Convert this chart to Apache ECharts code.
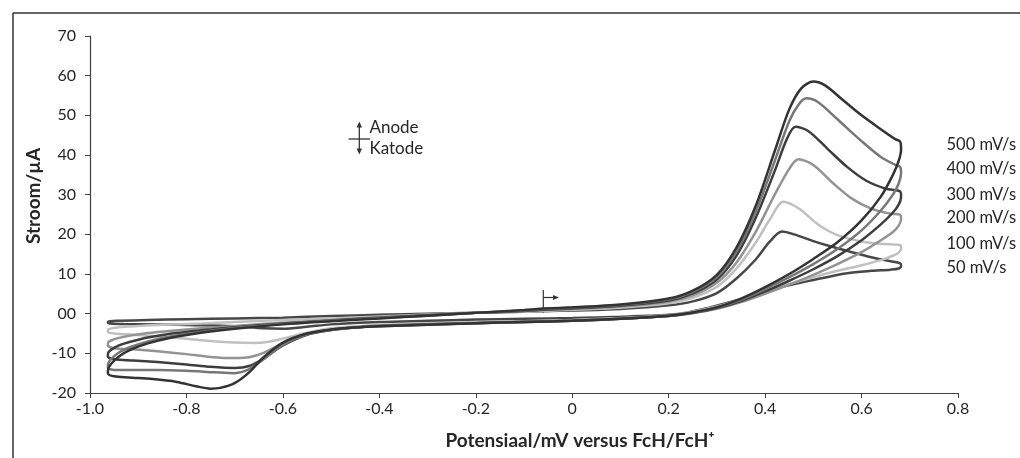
<!DOCTYPE html>
<html><head><meta charset="utf-8">
<script src="https://cdn.jsdelivr.net/npm/echarts@6/dist/echarts.min.js"></script>
<style>html,body{margin:0;padding:0;background:#fff}#c{width:1020px;height:458px}</style>
</head><body><div id="c"></div>
<script>
// Scan rates (legend labels)
const scanRates = ['500 mV/s', '400 mV/s', '300 mV/s', '200 mV/s', '100 mV/s', '50 mV/s'];

// Axis ticks
const xTicks = [-1.0, -0.8, -0.6, -0.4, -0.2, 0, 0.2, 0.4, 0.6, 0.8];
const yTicks = [-20, -10, 0, 10, 20, 30, 40, 50, 60, 70];

// Cyclic voltammograms: [potential, current]
const cv500 = [[-0.06,1.3],[0,1.6],[0.1,2.3],[0.2,3.8],[0.25,5.8],[0.3,9.8],[0.34,16.5],[0.38,27],[0.42,41],[0.45,51.5],[0.475,56.8],[0.5,58.5],[0.525,57.5],[0.56,54],[0.6,50],[0.64,46.5],[0.67,44],[0.68,43.4],
 [0.682,41.5],[0.677,38.5],[0.665,35],[0.64,29.5],[0.6,23.5],[0.55,18],[0.5,13.8],[0.45,10],[0.4,6.7],[0.35,3.8],[0.3,1.6],[0.25,0.3],[0.2,-0.5],[0.1,-1.3],[0,-1.8],[-0.1,-2.1],[-0.2,-2.4],[-0.3,-2.8],[-0.4,-3.2],[-0.45,-3.5],[-0.5,-4.0],
 [-0.55,-5.0],[-0.6,-7.3],[-0.64,-11],[-0.67,-14.8],[-0.7,-17.5],[-0.73,-18.7],[-0.75,-18.9],[-0.78,-18.3],[-0.82,-17.2],[-0.87,-16.5],[-0.92,-16.1],[-0.95,-15.8],[-0.963,-15.0],[-0.962,-13.8],[-0.955,-12.5],
 [-0.94,-10.8],[-0.92,-9.3],[-0.88,-7.5],[-0.83,-6],[-0.77,-4.8],[-0.7,-3.8],[-0.6,-2.7],[-0.5,-1.9],[-0.4,-1.2],[-0.3,-0.5],[-0.2,0.2],[-0.1,0.9],[-0.06,1.3]];

const cv400 = [[-0.06,1.2],[0,1.5],[0.1,2.2],[0.2,3.6],[0.25,5.5],[0.3,9.2],[0.34,15.5],[0.38,25.5],[0.42,38.5],[0.45,48.5],[0.47,52.8],[0.486,54.3],[0.51,53.3],[0.55,49],[0.6,43.5],[0.64,39.5],[0.67,37.5],[0.68,37],
 [0.682,35.5],[0.677,32.8],[0.665,30],[0.64,26],[0.6,21],[0.55,16.3],[0.5,12.5],[0.45,9.2],[0.4,6.2],[0.35,3.5],[0.3,1.5],[0.25,0.3],[0.2,-0.5],[0.1,-1.3],[0,-1.8],[-0.1,-2.1],[-0.2,-2.4],[-0.3,-2.8],[-0.4,-3.2],[-0.45,-3.5],[-0.5,-4.1],
 [-0.55,-5.2],[-0.6,-7.8],[-0.64,-11.5],[-0.67,-14],[-0.7,-15],[-0.74,-14.8],[-0.8,-14.4],[-0.86,-14.2],[-0.91,-14.2],[-0.95,-14.2],[-0.963,-13.6],[-0.962,-12.5],[-0.955,-11.3],
 [-0.94,-9.8],[-0.92,-8.6],[-0.88,-7],[-0.83,-5.7],[-0.77,-4.6],[-0.7,-3.6],[-0.6,-2.6],[-0.5,-1.8],[-0.4,-1.1],[-0.3,-0.5],[-0.2,0.2],[-0.1,0.8],[-0.06,1.2]];

const cv300 = [[-0.06,1.0],[0,1.3],[0.1,2.0],[0.2,3.3],[0.25,5.1],[0.3,8.6],[0.34,14.5],[0.38,24],[0.42,36],[0.445,44],[0.463,47.1],[0.49,46],[0.53,41.5],[0.57,37],[0.61,33.5],[0.65,31.5],[0.68,30.8],
 [0.682,29.5],[0.677,27.5],[0.665,25.5],[0.64,22.5],[0.6,18.5],[0.55,14.5],[0.5,11.2],[0.45,8.3],[0.4,5.6],[0.35,3.2],[0.3,1.4],[0.25,0.2],[0.2,-0.6],[0.1,-1.3],[0,-1.8],[-0.1,-2.1],[-0.2,-2.4],[-0.3,-2.7],[-0.4,-3.1],[-0.45,-3.5],[-0.5,-4.1],
 [-0.55,-5.3],[-0.6,-8],[-0.64,-11.3],[-0.67,-13.2],[-0.7,-13.7],[-0.75,-13.4],[-0.8,-12.8],[-0.86,-12.2],[-0.91,-11.8],[-0.95,-11.5],[-0.963,-10.8],[-0.962,-9.8],[-0.955,-9],
 [-0.94,-8],[-0.92,-7.2],[-0.88,-6],[-0.83,-5],[-0.77,-4.2],[-0.7,-3.4],[-0.6,-2.5],[-0.5,-1.7],[-0.4,-1.0],[-0.3,-0.4],[-0.2,0.2],[-0.1,0.7],[-0.06,1.0]];

const cv200 = [[-0.06,0.9],[0,1.2],[0.1,1.8],[0.2,3.0],[0.25,4.6],[0.3,7.8],[0.34,12.8],[0.38,20.5],[0.42,30],[0.45,36.5],[0.469,38.9],[0.5,37.5],[0.54,33],[0.58,29],[0.62,26.5],[0.66,25.2],[0.68,24.9],
 [0.682,23.8],[0.677,22.2],[0.665,20.6],[0.64,18.5],[0.6,15.5],[0.55,12.5],[0.5,9.8],[0.45,7.3],[0.4,5],[0.35,2.9],[0.3,1.2],[0.25,0.1],[0.2,-0.6],[0.1,-1.2],[0,-1.7],[-0.1,-2.0],[-0.2,-2.3],[-0.3,-2.6],[-0.4,-3.0],[-0.45,-3.4],[-0.5,-4.0],
 [-0.55,-5.0],[-0.6,-7.5],[-0.64,-9.9],[-0.67,-11],[-0.7,-11.2],[-0.75,-10.9],[-0.8,-10.2],[-0.86,-9.5],[-0.91,-9],[-0.95,-8.7],[-0.963,-8],[-0.962,-7.2],[-0.955,-6.7],
 [-0.94,-6.1],[-0.92,-5.6],[-0.88,-4.9],[-0.83,-4.3],[-0.77,-3.7],[-0.7,-3.1],[-0.6,-2.3],[-0.5,-1.6],[-0.4,-0.9],[-0.3,-0.3],[-0.2,0.2],[-0.1,0.7],[-0.06,0.9]];

const cv100 = [[-0.06,0.7],[0,1.0],[0.1,1.5],[0.2,2.6],[0.25,4.0],[0.3,6.8],[0.34,11.3],[0.38,17.8],[0.41,23.8],[0.438,28.2],[0.47,26.5],[0.51,22.5],[0.55,19.8],[0.6,18.2],[0.64,17.6],[0.68,17.3],
 [0.682,16.5],[0.677,15.4],[0.665,14.6],[0.64,13.5],[0.6,12.2],[0.55,10.8],[0.5,9.2],[0.45,7.5],[0.4,5.6],[0.35,3.6],[0.3,1.8],[0.25,0.5],[0.2,-0.4],[0.1,-1.1],[0,-1.6],[-0.1,-1.9],[-0.2,-2.2],[-0.3,-2.5],[-0.4,-2.9],[-0.45,-3.2],[-0.5,-3.7],
 [-0.55,-4.8],[-0.6,-6.3],[-0.63,-7.1],[-0.66,-7.4],[-0.7,-7.3],[-0.75,-6.9],[-0.8,-6.3],[-0.86,-5.7],[-0.91,-5.3],[-0.95,-5.0],[-0.963,-4.6],[-0.962,-4.0],[-0.955,-3.7],
 [-0.94,-3.4],[-0.9,-3.1],[-0.85,-2.8],[-0.77,-2.5],[-0.7,-2.1],[-0.6,-1.6],[-0.5,-1.2],[-0.4,-0.7],[-0.3,-0.2],[-0.2,0.2],[-0.1,0.5],[-0.06,0.7]];

const cv50 = [[-0.06,0.6],[0,0.8],[0.1,1.2],[0.2,2.1],[0.25,3.1],[0.3,5.2],[0.34,8.8],[0.38,13.6],[0.41,18.2],[0.435,20.7],[0.46,20],[0.5,18.3],[0.535,17],[0.58,15.5],[0.62,14.2],[0.66,13.2],[0.68,12.7],
 [0.682,12],[0.677,11.4],[0.66,11.1],[0.62,10.8],[0.57,10.2],[0.5,8.5],[0.43,6.6],[0.38,4.8],[0.33,3],[0.28,1.4],[0.24,0.3],[0.2,-0.3],[0.1,-0.8],[0,-1.1],[-0.1,-1.3],[-0.2,-1.5],[-0.3,-1.8],[-0.4,-2.1],[-0.5,-2.7],
 [-0.55,-3.3],[-0.6,-3.8],[-0.64,-3.7],[-0.7,-3.2],[-0.78,-2.9],[-0.86,-2.7],[-0.93,-2.6],[-0.958,-2.5],[-0.963,-2.2],[-0.958,-1.9],
 [-0.94,-1.8],[-0.88,-1.6],[-0.8,-1.4],[-0.7,-1.2],[-0.6,-1.0],[-0.5,-0.6],[-0.4,-0.3],[-0.3,0],[-0.2,0.2],[-0.1,0.5],[-0.06,0.6]];

const curves = [cv500, cv400, cv300, cv200, cv100, cv50];
const colors = ['#333333', '#777777', '#3d3d3d', '#939393', '#c0c0c0', '#474747'];
const labelY = [145, 169, 195, 218, 244, 268];

const FONT = 'Lato';
const chart = echarts.init(document.getElementById('c'), null, {renderer: 'canvas'});

const series = curves.map((d, i) => ({
  name: scanRates[i], type: 'line', data: d, showSymbol: false, smooth: 0.3,
  lineStyle: {color: colors[i], width: 2.5}, z: 10 - i, animation: false
}));

const graphic = [
  {type: 'line', shape: {x1: 13, y1: 13, x2: 1020, y2: 13}, style: {stroke: '#333', lineWidth: 1.5}},
  {type: 'line', shape: {x1: 13, y1: 13, x2: 13, y2: 458}, style: {stroke: '#333', lineWidth: 1.5}},
  {type: 'text', x: 580, y: 441, style: {text: 'Potensiaal/mV versus FcH/FcH\u207A', font: 'bold 19px ' + FONT, fill: '#262626', textAlign: 'center', textVerticalAlign: 'middle'}},
  {type: 'text', x: 34, y: 196, rotation: Math.PI / 2, style: {text: 'Stroom/\u00B5A', font: 'bold 19px ' + FONT, fill: '#262626', textAlign: 'center', textVerticalAlign: 'middle'}},
  // anode / katode marker
  {type: 'line', shape: {x1: 359.3, y1: 125, x2: 359.3, y2: 151}, style: {stroke: '#333', lineWidth: 1.3}},
  {type: 'line', shape: {x1: 348.5, y1: 139, x2: 370, y2: 139}, style: {stroke: '#333', lineWidth: 1.3}},
  {type: 'polygon', shape: {points: [[359.3, 121.5], [356.6, 127.5], [362, 127.5]]}, style: {fill: '#333'}},
  {type: 'polygon', shape: {points: [[359.3, 154.5], [356.6, 148.5], [362, 148.5]]}, style: {fill: '#333'}},
  {type: 'text', x: 369.5, y: 128, style: {text: 'Anode', font: '17px ' + FONT, fill: '#262626', textVerticalAlign: 'middle'}},
  {type: 'text', x: 369.5, y: 149, style: {text: 'Katode', font: '17px ' + FONT, fill: '#262626', textVerticalAlign: 'middle'}},
  // start marker
  {type: 'line', shape: {x1: 543.3, y1: 290, x2: 543.3, y2: 313}, style: {stroke: '#333', lineWidth: 1.2}},
  {type: 'line', shape: {x1: 543.3, y1: 297.5, x2: 554, y2: 297.5}, style: {stroke: '#333', lineWidth: 1.2}},
  {type: 'polygon', shape: {points: [[559, 297.5], [553, 295], [553, 300]]}, style: {fill: '#333'}}
];
scanRates.forEach((s, i) => graphic.push({type: 'text', x: 946.5, y: labelY[i], style: {text: s, font: '16.5px ' + FONT, fill: '#262626', textVerticalAlign: 'middle'}}));

chart.setOption({
  animation: false,
  backgroundColor: '#fff',
  grid: {left: 90, right: 62, top: 36, bottom: 65, containLabel: false, outerBoundsMode: 'none'},
  xAxis: {
    type: 'value', min: xTicks[0], max: xTicks[xTicks.length - 1], interval: 0.2,
    axisLine: {onZero: false, lineStyle: {color: '#404040', width: 1.2}},
    axisTick: {show: true, length: 5, lineStyle: {color: '#404040'}},
    splitLine: {show: false},
    axisLabel: {color: '#262626', fontFamily: FONT, fontSize: 16, margin: 8,
      formatter: v => { const t = xTicks.find(x => Math.abs(x - v) < 1e-9); return t === 0 ? '0' : (t !== undefined ? t.toFixed(1) : ''); }}
  },
  yAxis: {
    type: 'value', min: yTicks[0], max: yTicks[yTicks.length - 1], interval: 10,
    axisLine: {show: true, onZero: false, lineStyle: {color: '#404040', width: 1.2}},
    axisTick: {show: true, length: 5, lineStyle: {color: '#404040'}},
    splitLine: {show: false},
    axisLabel: {color: '#262626', fontFamily: FONT, fontSize: 16, margin: 14,
      formatter: v => v === 0 ? '00' : String(v)}
  },
  series: series,
  graphic: graphic
});
</script>
</body></html>
